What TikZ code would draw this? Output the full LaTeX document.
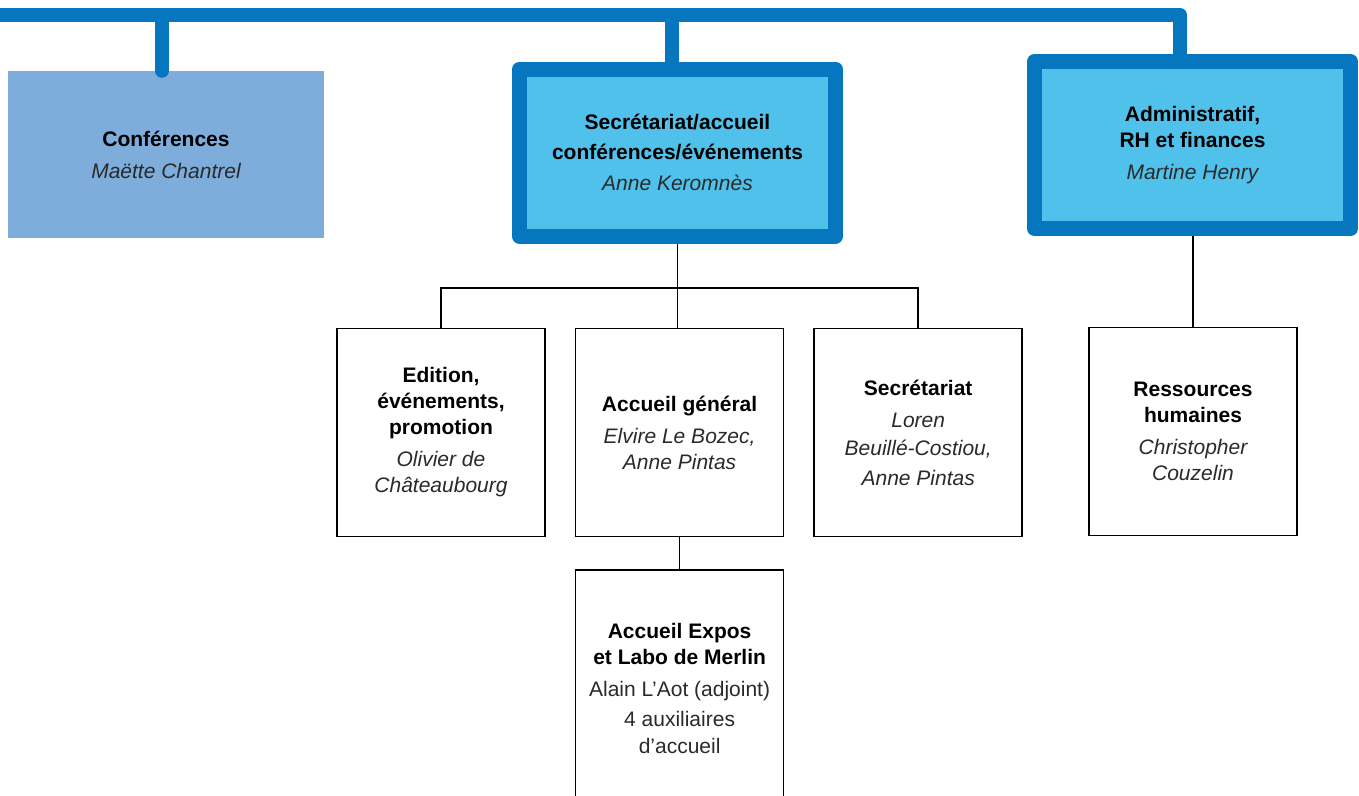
\documentclass[tikz,border=0pt]{standalone}
\usepackage{fontspec}
\setmainfont{Liberation Sans}
\usetikzlibrary{positioning}
\definecolor{barblue}{HTML}{0677BE}
\definecolor{cyanfill}{HTML}{4FC1EB}
\definecolor{conffill}{HTML}{7EACDB}
\definecolor{namegray}{HTML}{2A2A2A}
\newcommand{\nom}[1]{{\color{namegray}\itshape #1}}
\newcommand{\titre}[1]{{\bfseries #1}}

\begin{document}
\begin{tikzpicture}[x=1pt,y=-1pt,
  every node/.style={align=center, font=\fontsize{21}{26}\selectfont},
  dept/.style={draw=barblue, line width=15pt, line join=round, fill=cyanfill,
    minimum width=316pt, minimum height=167pt, inner sep=0pt},
  unit/.style={draw, line width=1.6pt, fill=white, minimum width=208pt,
    minimum height=208pt, inner sep=0pt},
  bar/.style={barblue, line width=14pt, line join=round},
  link/.style={line width=1.6pt}]
\clip (0,0) rectangle (1359,795);

% services sous la direction
\node[fill=conffill, minimum width=316pt, minimum height=167pt, inner sep=0pt] (conf) at (166,154.5)
  {\titre{Conférences}\\[6pt] \nom{Maëtte Chantrel}};
\node[dept] (sec) at (677.5,152.5)
  {\titre{Secrétariat/accueil}\\[4pt] \titre{conférences/événements}\\[5pt] \nom{Anne Keromnès}};
\node[dept] (admin) at (1192.5,145)
  {\titre{Administratif,}\\ \titre{RH et finances}\\[6pt] \nom{Martine Henry}};

% barre du haut
\coordinate (start) at (-10,15);
\coordinate (corner) at (1180,15);
\coordinate (dconf) at (162,15);
\coordinate (dsec) at (671.5,15);
\draw[bar] (start) -- (corner) -- (corner |- admin.north);
\draw[bar] (dsec) -- (dsec |- sec.north);
\draw[bar, line cap=round] (dconf) -- (dconf |- conf.north);

% unités
\node[unit] (edition) at (441,432.5)
  {\titre{Edition,}\\ \titre{événements,}\\ \titre{promotion}\\[6pt] \nom{Olivier de}\\ \nom{Châteaubourg}};
\node[unit, right=29pt of edition] (accueil)
  {\titre{Accueil général}\\[6pt] \nom{Elvire Le Bozec,}\\ \nom{Anne Pintas}};
\node[unit, right=29pt of accueil] (secr)
  {\titre{Secrétariat}\\[6pt] \nom{Loren}\\[2pt] \nom{Beuillé-Costiou,}\\[4pt] \nom{Anne Pintas}};
\node[unit, minimum height=236pt, below=32pt of accueil] (expos)
  {\titre{Accueil Expos}\\ \titre{et Labo de Merlin}\\[6pt]
   {\color{namegray}Alain L’Aot (adjoint)}\\[4pt] {\color{namegray}4 auxiliaires}\\[1pt] {\color{namegray}d’accueil}};
\node[unit] (rh) at (1193,431.5)
  {\titre{Ressources}\\ \titre{humaines}\\[6pt] \nom{Christopher}\\ \nom{Couzelin}};

% liaisons
\coordinate (split) at (sec.south |- 0,288);
\draw[link] (sec.south) -- (split);
\draw[link] (edition.north) |- (split) -| (secr.north);
\draw[link] (split) -- (split |- accueil.north);
\draw[link] (accueil.south) -- (expos.north);
\draw[link] (admin.south -| rh.north) -- (rh.north);
\end{tikzpicture}
\end{document}
